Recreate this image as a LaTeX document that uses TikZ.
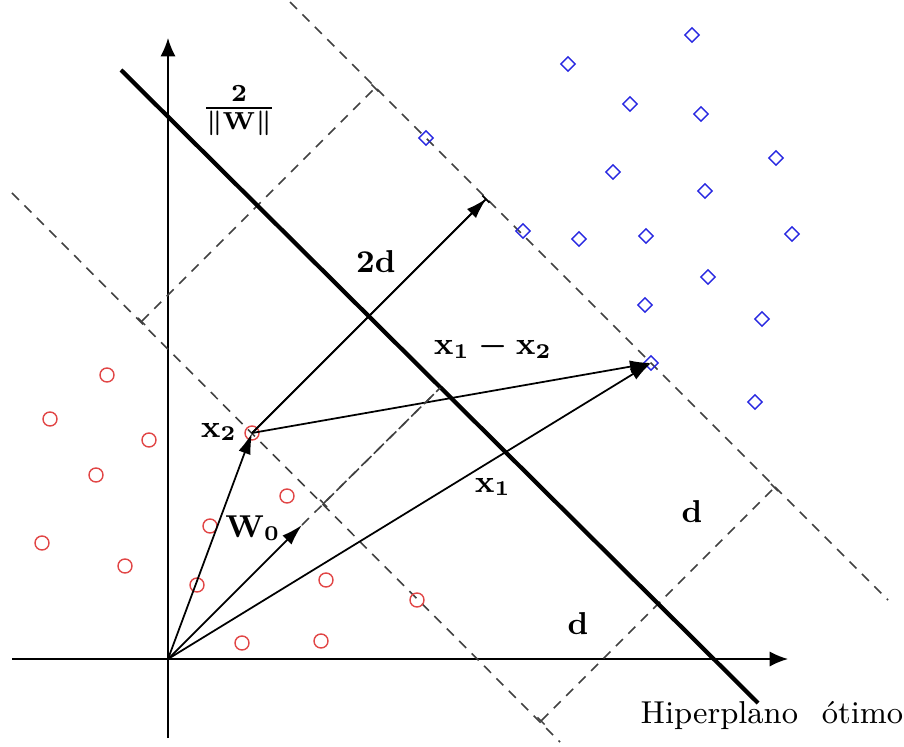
\documentclass[tikz,border=0pt]{standalone}
\usetikzlibrary{arrows.meta,shapes.geometric}
\definecolor{ptred}{RGB}{225,70,70}
\definecolor{ptblue}{RGB}{40,40,225}
\begin{document}
\begin{tikzpicture}[x=0.01cm,y=-0.01cm,
  every node/.style={font=\fontsize{9}{11}\selectfont},
  lbl/.style={font=\fontsize{9}{11}\selectfont\boldmath, inner sep=0pt},
  ptc/.style={circle, draw=ptred, line width=0.4pt, minimum size=0.14cm, inner sep=0pt},
  ptd/.style={diamond, draw=ptblue, line width=0.4pt, minimum size=0.15cm, inner sep=0pt},
  vec/.style={line width=0.5pt, -{Latex[length=6pt,width=3.6pt]}},
  axis/.style={line width=0.5pt, -{Latex[length=5.2pt,width=4.3pt]}},
  margin/.style={draw=black!75, line width=0.45pt, dash pattern=on 2.8pt off 2.2pt},
  dimline/.style={margin, {Bar[width=0.1cm]}-{Bar[width=0.1cm]}},
  hyper/.style={line width=1.2pt}
]
\useasboundingbox (0,0) rectangle (904,746);

% key points
\coordinate (O) at (168,659);
\coordinate (Ytop) at (168,38);
\coordinate (Ybot) at (168,738);
\coordinate (Xl) at (12,659);
\coordinate (Xr) at (788,659);
\coordinate (H1) at (121,70);
\coordinate (H2) at (758,703);
\coordinate (U1) at (290,2);
\coordinate (U2) at (888,600);
\coordinate (L1) at (12,193);
\coordinate (L2) at (560,742);
\coordinate (A1) at (141,322);
\coordinate (A2) at (375.5,87.5);
\coordinate (B1) at (540.5,721.5);
\coordinate (B2) at (775,487);
\coordinate (W0) at (302,525);
\coordinate (F0) at (323,504);
\coordinate (Hd) at (440,388);
\coordinate (T2d) at (486.5,198.5);

% axes
\draw[axis] (Xl) -- (Xr);
\draw[axis] (Ybot) -- (Ytop);

% margins and hyperplane
\draw[margin] (U1) -- (U2);
\draw[margin] (L1) -- (L2);
\draw[dimline] (A1) -- (A2);
\draw[dimline] (B1) -- (B2);
\draw[hyper] (H1) -- (H2);

% red circles
\node[ptc] (c1) at (107,375) {};
\node[ptc] (c2) at (50,419) {};
\node[ptc] (c3) at (149,440) {};
\node[ptc] (c4) at (252,433) {};
\node[ptc] (c5) at (96,475) {};
\node[ptc] (c6) at (287,496) {};
\node[ptc] (c7) at (210,526) {};
\node[ptc] (c8) at (42,543) {};
\node[ptc] (c9) at (125,566) {};
\node[ptc] (c10) at (197,585) {};
\node[ptc] (c11) at (326,580) {};
\node[ptc] (c12) at (417,600) {};
\node[ptc] (c13) at (242,643) {};
\node[ptc] (c14) at (321,641) {};

% blue diamonds
\node[ptd] (d1) at (692,35) {};
\node[ptd] (d2) at (568,64) {};
\node[ptd] (d3) at (630,104) {};
\node[ptd] (d4) at (701,114) {};
\node[ptd] (d5) at (776,158) {};
\node[ptd] (d6) at (613,172) {};
\node[ptd] (d7) at (705,191) {};
\node[ptd] (d8) at (523,231) {};
\node[ptd] (d9) at (579,239) {};
\node[ptd] (d10) at (646,236) {};
\node[ptd] (d11) at (792,234) {};
\node[ptd] (d12) at (708,277) {};
\node[ptd] (d13) at (645,305) {};
\node[ptd] (d14) at (762,319) {};
\node[ptd] (d15) at (651,363) {};
\node[ptd] (d16) at (426,138) {};
\node[ptd] (d17) at (755,402) {};

% vectors
\draw[vec] (O) -- (c4.center);
\draw[vec] (O) -- (d15.center);
\draw[vec] (c4.center) -- (d15.center);
\draw[vec] (c4.center) -- (T2d);
\draw[line width=0.5pt, -{Bar[width=0.1cm]}] (c4.center) -- (T2d);
\draw[vec] (O) -- (W0);
\draw[margin] (W0) -- (Hd);
\draw[margin, {Bar[width=0.1cm]}-] (F0) -- (Hd);

% labels
\node[lbl, font=\fontsize{10}{12}\selectfont\boldmath] (lfrac) at (239,111) {$\frac{\mathbf{2}}{\|\mathbf{W}\|}$};
\node[lbl] (l2d) at (376,262) {$\mathbf{2d}$};
\node[lbl] (lx1x2) at (493,347) {$\mathbf{x_1-x_2}$};
\node[lbl] (lx2) at (219,432) {$\mathbf{x_2}$};
\node[lbl] (lw0) at (253,528) {$\mathbf{W_0}$};
\node[lbl] (lx1) at (493,487) {$\mathbf{x_1}$};
\node[lbl] (ld1) at (692,512) {$\mathbf{d}$};
\node[lbl] (ld2) at (578,624) {$\mathbf{d}$};
\node[anchor=base west, inner sep=0pt] (lhyp) at (640,723) {Hiperplano\hspace{0.75em}ótimo};
\end{tikzpicture}
\end{document}
